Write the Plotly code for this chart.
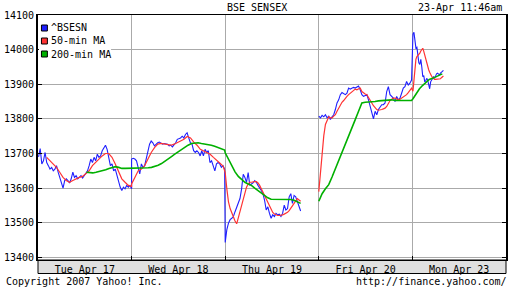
import numpy as np
import plotly.graph_objects as go

# ---------------- data ----------------
DAY_LABELS = ["Tue Apr 17", "Wed Apr 18", "Thu Apr 19", "Fri Apr 20", "Mon Apr 23"]
Y_TICKS = [13400, 13500, 13600, 13700, 13800, 13900, 14000, 14100]
SESSION_OPEN, SESSION_CLOSE = "09:55", "15:30"

BSESN_TUE = [13690, 13714, 13670, 13679, 13703, 13674, 13665, 13655, 13660, 13650,
             13655, 13665, 13646, 13631, 13612, 13600, 13622, 13627, 13622, 13615,
             13627, 13646, 13631, 13636, 13627, 13631, 13636, 13629, 13636, 13646,
             13650, 13665, 13684, 13674, 13689, 13679, 13698, 13689, 13693, 13708,
             13717, 13724, 13712, 13684, 13665, 13670, 13650, 13655, 13636, 13622,
             13603, 13593, 13603, 13598, 13608, 13603, 13608, 13598]
BSESN_WED = [13684, 13686, 13684, 13679, 13655, 13641, 13670, 13660, 13665, 13684,
             13708, 13727, 13736, 13731, 13722, 13727, 13731, 13733, 13729, 13727,
             13729, 13727, 13727, 13722, 13724, 13719, 13724, 13731, 13741, 13743,
             13745, 13750, 13745, 13755, 13760, 13745, 13731, 13727, 13708, 13703,
             13708, 13703, 13693, 13708, 13693, 13712, 13703, 13708, 13674, 13679,
             13660, 13650, 13670, 13674, 13670, 13660, 13665, 13655]
BSESN_THU = [13443, 13480, 13499, 13509, 13513, 13518, 13532, 13546, 13556, 13570,
             13598, 13640, 13631, 13617, 13645, 13608, 13612, 13615, 13622, 13617,
             13608, 13598, 13593, 13584, 13565, 13537, 13546, 13527, 13513, 13523,
             13518, 13527, 13523, 13525, 13518, 13527, 13551, 13537, 13541, 13575,
             13584, 13556, 13579, 13575, 13560, 13551, 13534]
BSESN_FRI = [13808, 13803, 13810, 13806, 13812, 13803, 13808, 13798, 13806, 13812,
             13827, 13846, 13855, 13870, 13876, 13874, 13870, 13874, 13889, 13886,
             13889, 13891, 13889, 13891, 13895, 13884, 13870, 13865, 13867, 13870,
             13855, 13836, 13822, 13800, 13822, 13812, 13827, 13836, 13841, 13841,
             13846, 13879, 13893, 13870, 13865, 13860, 13850, 13865, 13855, 13860,
             13874, 13889, 13893, 13908, 13898, 13903, 13912]
BSESN_MON = [14045, 14050, 14022, 14005, 14007, 13977, 13962, 13957, 13972, 13950,
             13922, 13925, 13907, 13910, 13917, 13912, 13892, 13887, 13907, 13912,
             13917, 13922, 13917, 13925, 13930, 13932, 13930, 13927, 13932, 13936,
             13937, 13940]
BSESN_TIMES = [("09:57", "15:30"), ("09:55", "15:28"), ("09:55", "14:25"),
               ("09:55", "15:27"), ("09:57", "11:46")]

MA50_TUE = [13689, 13679, 13670, 13660, 13646, 13631, 13622, 13617, 13622, 13627,
            13631, 13634, 13641, 13650, 13665, 13676, 13684, 13693, 13700, 13700,
            13689, 13670, 13646, 13627, 13617, 13608, 13605]
MA50_WED = [13612, 13631, 13650, 13655, 13665, 13684, 13703, 13717, 13727, 13729,
            13727, 13727, 13724, 13727, 13731, 13736, 13741, 13749, 13745, 13733,
            13724, 13712, 13708, 13703, 13698, 13689, 13679, 13672, 13663]
MA50_THU = [13645, 13598, 13560, 13541, 13527, 13513, 13505, 13497, 13515, 13537,
            13556, 13575, 13589, 13603, 13612, 13617, 13617, 13619, 13619, 13619,
            13615, 13608, 13598, 13589, 13579, 13570, 13556, 13546, 13537, 13530,
            13525, 13522, 13521, 13521, 13521, 13523, 13525, 13527, 13530, 13535,
            13541, 13548, 13556, 13563, 13570, 13566, 13562]
MA50_FRI = [13590, 13650, 13700, 13751, 13784, 13798, 13806, 13803, 13803, 13808,
            13812, 13822, 13831, 13841, 13848, 13853, 13860, 13865, 13870, 13874,
            13879, 13884, 13886, 13884, 13886, 13889, 13879, 13874, 13872, 13870,
            13863, 13853, 13846, 13838, 13831, 13827, 13825, 13825, 13827, 13829,
            13831, 13836, 13846, 13853, 13857, 13860, 13860, 13857, 13855, 13857,
            13860, 13863, 13865, 13870, 13876, 13884, 13889]
MA50_MON = [13880, 13915, 13952, 13972, 13980, 13983, 13987, 13990, 13996, 14001,
            14004, 13995, 13983, 13973, 13962, 13950, 13942, 13935, 13927, 13923,
            13919, 13916, 13914, 13914, 13914, 13914, 13914, 13915, 13916, 13919,
            13922, 13924]
MA50_TIMES = [("10:26", "15:30"), ("09:55", "15:23"), ("09:55", "14:25"),
              ("09:55", "15:27"), ("09:57", "11:46")]

MA200_TUE = [13646, 13644, 13644, 13646, 13648, 13650, 13653, 13657, 13660, 13662,
             13660, 13657, 13657, 13657, 13658]
MA200_WED = [13657, 13657, 13657, 13658, 13658, 13659, 13660, 13662, 13666, 13671,
             13677, 13684, 13691, 13698, 13705, 13712, 13719, 13724, 13729, 13731,
             13731, 13729, 13728, 13726, 13724, 13721, 13718, 13714, 13710]
MA200_THU = [13702, 13683, 13666, 13647, 13634, 13624, 13617, 13612, 13608, 13600,
             13593, 13587, 13579, 13572, 13568, 13568, 13568, 13568, 13568, 13567,
             13567, 13565, 13560, 13556]
MA200_FRI = [13562, 13584, 13598, 13610, 13632, 13655, 13679, 13703, 13727, 13751,
             13774, 13798, 13822, 13846, 13848, 13848, 13849, 13850, 13852, 13853,
             13853, 13853, 13855, 13853, 13853, 13852, 13852, 13852, 13853]
MA200_MON = [13858, 13872, 13887, 13897, 13907, 13914, 13917, 13922, 13927, 13930]
MA200_TIMES = [("12:48", "15:30"), ("09:55", "15:28"), ("09:55", "14:25"),
               ("09:55", "15:27"), ("09:57", "11:42")]

GAP_AFTER_DAY = 2  # no data between Thu afternoon and Fri open


def to_min(s):
    h, m = s.split(":")
    return int(h) * 60 + int(m)


def build(days, times):
    o, c = to_min(SESSION_OPEN), to_min(SESSION_CLOSE)
    xs, ys = [], []
    for i, (vals, (t0, t1)) in enumerate(zip(days, times)):
        f0 = (to_min(t0) - o) / (c - o)
        f1 = (to_min(t1) - o) / (c - o)
        xs += list(i + np.linspace(f0, f1, len(vals)))
        ys += list(vals)
        if i == GAP_AFTER_DAY:
            xs.append(None)
            ys.append(None)
    return xs, ys


bx, by = build([BSESN_TUE, BSESN_WED, BSESN_THU, BSESN_FRI, BSESN_MON], BSESN_TIMES)
rx, ry = build([MA50_TUE, MA50_WED, MA50_THU, MA50_FRI, MA50_MON], MA50_TIMES)
gx, gy = build([MA200_TUE, MA200_WED, MA200_THU, MA200_FRI, MA200_MON], MA200_TIMES)

BLUE, RED, GREEN = "#1f1fff", "#ff3333", "#00b000"
FONT = "DejaVu Sans Mono"
W, H = 512, 288
ML, MR, MT, MB = 34, 4, 15, 28
PW, PH = W - ML - MR, H - MT - MB


def px(x):
    return (x - ML) / PW


def py(y):
    return 1 - (y - MT) / PH


fig = go.Figure()
fig.add_trace(go.Scatter(x=bx, y=by, mode="lines", line=dict(color=BLUE, width=1.1),
                         connectgaps=False, showlegend=False))
fig.add_trace(go.Scatter(x=rx, y=ry, mode="lines", line=dict(color=RED, width=1.2),
                         connectgaps=False, showlegend=False))
fig.add_trace(go.Scatter(x=gx, y=gy, mode="lines", line=dict(color=GREEN, width=1.6),
                         connectgaps=False, showlegend=False))

shapes = []
annotations = []
# date band under the plot
shapes.append(dict(type="rect", xref="paper", yref="paper", x0=0, x1=1,
                   y0=py(273.5), y1=0, fillcolor="#e0e0e0",
                   line=dict(color="black", width=1), layer="below"))
# legend box
shapes.append(dict(type="rect", xref="paper", yref="paper", x0=px(35), x1=px(108),
                   y0=py(60), y1=py(16), fillcolor="white", line=dict(width=0),
                   layer="above"))
legend_items = [("^BSESN", BLUE), ("50-min MA", RED), ("200-min MA", GREEN)]
for i, (name, col) in enumerate(legend_items):
    yc = 28 + 13 * i
    shapes.append(dict(type="rect", xref="paper", yref="paper", x0=px(37.5), x1=px(43.5),
                       y0=py(yc + 3), y1=py(yc - 3), fillcolor=col,
                       line=dict(color="black", width=1), layer="above"))
    annotations.append(dict(text=name, xref="paper", yref="paper", x=px(45.5), y=py(yc),
                            xanchor="left", yanchor="middle", showarrow=False,
                            font=dict(family=FONT, size=10, color="black")))

annotations += [
    dict(text="BSE SENSEX", xref="paper", yref="paper", x=px(256), y=py(7.5),
         xanchor="center", yanchor="middle", showarrow=False,
         font=dict(family=FONT, size=10, color="black")),
    dict(text="23-Apr 11:46am", xref="paper", yref="paper", x=px(506), y=py(7.5),
         xanchor="right", yanchor="middle", showarrow=False,
         font=dict(family=FONT, size=10, color="black")),
    dict(text="Copyright 2007 Yahoo! Inc.", xref="paper", yref="paper", x=px(0), y=py(281.5),
         xanchor="left", yanchor="middle", showarrow=False,
         font=dict(family=FONT, size=10, color="black")),
    dict(text="http://finance.yahoo.com/", xref="paper", yref="paper", x=px(511.5), y=py(281.5),
         xanchor="right", yanchor="middle", showarrow=False,
         font=dict(family=FONT, size=10, color="black")),
]

fig.update_layout(
    width=W, height=H,
    margin=dict(l=ML, r=MR, t=MT, b=MB, pad=0),
    paper_bgcolor="white", plot_bgcolor="white",
    showlegend=False,
    shapes=shapes, annotations=annotations,
    xaxis=dict(range=[0, 5], tickmode="array",
               tickvals=[i + 0.5 for i in range(len(DAY_LABELS))], ticktext=DAY_LABELS,
               ticks="", showgrid=False, zeroline=False,
               showline=True, linecolor="black", linewidth=1, mirror=True,
               tickfont=dict(family=FONT, size=10, color="black"),
               minor=dict(tickvals=[1, 2, 3, 4], showgrid=True, gridcolor="#aaaaaa",
                          gridwidth=1, ticks="inside", ticklen=4, tickcolor="black")),
    yaxis=dict(range=[13392.5, 14100], tickmode="array", tickvals=Y_TICKS,
               ticktext=[str(v) for v in Y_TICKS],
               ticks="inside", ticklen=4, tickcolor="black", tickwidth=1,
               showgrid=True, gridcolor="#aaaaaa", gridwidth=1, zeroline=False,
               showline=True, linecolor="black", linewidth=2, mirror="ticks",
               tickfont=dict(family=FONT, size=10, color="black")),
)

fig.write_html("out.html")
